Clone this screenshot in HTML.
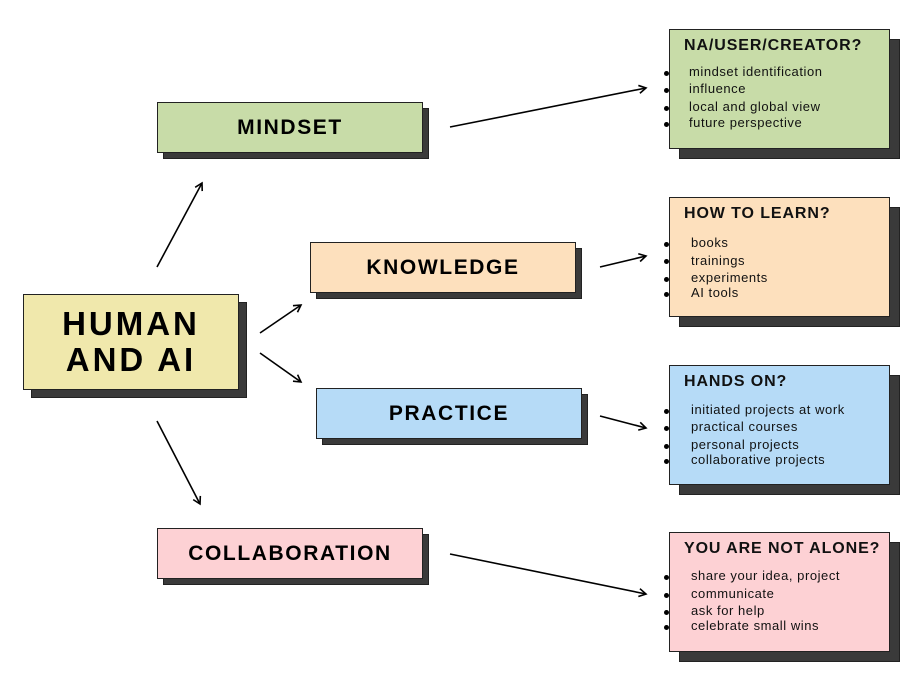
<!DOCTYPE html>
<html><head><meta charset="utf-8"><style>
html,body{margin:0;padding:0;background:#fff;}
body{width:924px;height:690px;position:relative;overflow:hidden;font-family:"Liberation Sans",sans-serif;}
.sh{position:absolute;background:#3a3a3a;border:1px solid #222;box-sizing:border-box;}
.bx{position:absolute;border:1.5px solid #222;box-sizing:border-box;display:flex;align-items:center;justify-content:center;font-weight:bold;color:#000;letter-spacing:1.6px;}
.rb{position:absolute;border:1.5px solid #222;box-sizing:border-box;color:#111;}
.rb .t{position:absolute;left:14px;top:7px;font-weight:bold;font-size:16px;letter-spacing:0.9px;white-space:nowrap;}
.rb .i{position:absolute;left:19px;font-size:13px;letter-spacing:0.55px;white-space:nowrap;}
.dot{position:absolute;width:5px;height:5px;border-radius:50%;background:#000;left:-6px;}
</style></head><body>
<svg width="924" height="690" style="position:absolute;left:0;top:0" xmlns="http://www.w3.org/2000/svg">
<defs><marker id="a" markerWidth="10" markerHeight="10" refX="8" refY="5" orient="auto" markerUnits="userSpaceOnUse"><path d="M1,1 L8,5 L1,9" fill="none" stroke="#000" stroke-width="1.6"/></marker></defs>
<g stroke="#000" stroke-width="1.6" fill="none" marker-end="url(#a)">
<line x1="157" y1="267" x2="202" y2="183"/>
<line x1="260" y1="333" x2="301" y2="305"/>
<line x1="260" y1="353" x2="301" y2="382"/>
<line x1="157" y1="421" x2="200" y2="504"/>
<line x1="450" y1="127" x2="646" y2="88"/>
<line x1="600" y1="267" x2="646" y2="256"/>
<line x1="600" y1="416" x2="646" y2="428"/>
<line x1="450" y1="554" x2="646" y2="594"/>
</g></svg>

<div class="sh" style="left:31px;top:302px;width:216px;height:96px"></div>
<div class="bx" style="left:23px;top:294px;width:216px;height:96px;background:#f0e8ac;font-size:33px;line-height:36px;text-align:center;letter-spacing:3px">HUMAN<br>AND AI</div>

<div class="sh" style="left:163px;top:108px;width:266px;height:51px"></div>
<div class="bx" style="left:157px;top:102px;width:266px;height:51px;background:#c8dca8;font-size:21px">MINDSET</div>

<div class="sh" style="left:316px;top:248px;width:266px;height:51px"></div>
<div class="bx" style="left:310px;top:242px;width:266px;height:51px;background:#fde0bd;font-size:21px">KNOWLEDGE</div>

<div class="sh" style="left:322px;top:394px;width:266px;height:51px"></div>
<div class="bx" style="left:316px;top:388px;width:266px;height:51px;background:#b6dbf7;font-size:21px">PRACTICE</div>

<div class="sh" style="left:163px;top:534px;width:266px;height:51px"></div>
<div class="bx" style="left:157px;top:528px;width:266px;height:51px;background:#fdd1d4;font-size:21px">COLLABORATION</div>

<div class="sh" style="left:679px;top:39px;width:221px;height:120px"></div>
<div class="rb" style="left:669px;top:29px;width:221px;height:120px;background:#c8dca8">
<div class="t">NA/USER/CREATOR?</div>
<div class="i" style="top:34px">mindset identification</div><div class="dot" style="top:41px"></div>
<div class="i" style="top:51px">influence</div><div class="dot" style="top:58px"></div>
<div class="i" style="top:69px">local and global view</div><div class="dot" style="top:76px"></div>
<div class="i" style="top:85px">future perspective</div><div class="dot" style="top:92px"></div>
</div>

<div class="sh" style="left:679px;top:207px;width:221px;height:120px"></div>
<div class="rb" style="left:669px;top:197px;width:221px;height:120px;background:#fde0bd">
<div class="t">HOW TO LEARN?</div>
<div class="i" style="left:21px;top:37px">books</div><div class="dot" style="top:44px"></div>
<div class="i" style="left:21px;top:55px">trainings</div><div class="dot" style="top:61px"></div>
<div class="i" style="left:21px;top:72px">experiments</div><div class="dot" style="top:79px"></div>
<div class="i" style="left:21px;top:87px">AI tools</div><div class="dot" style="top:94px"></div>
</div>

<div class="sh" style="left:679px;top:375px;width:221px;height:120px"></div>
<div class="rb" style="left:669px;top:365px;width:221px;height:120px;background:#b6dbf7">
<div class="t">HANDS ON?</div>
<div class="i" style="left:21px;top:36px">initiated projects at work</div><div class="dot" style="top:43px"></div>
<div class="i" style="left:21px;top:53px">practical courses</div><div class="dot" style="top:60px"></div>
<div class="i" style="left:21px;top:71px">personal projects</div><div class="dot" style="top:78px"></div>
<div class="i" style="left:21px;top:86px">collaborative projects</div><div class="dot" style="top:93px"></div>
</div>

<div class="sh" style="left:679px;top:542px;width:221px;height:120px"></div>
<div class="rb" style="left:669px;top:532px;width:221px;height:120px;background:#fdd1d4">
<div class="t">YOU ARE NOT ALONE?</div>
<div class="i" style="left:21px;top:35px">share your idea, project</div><div class="dot" style="top:42px"></div>
<div class="i" style="left:21px;top:53px">communicate</div><div class="dot" style="top:60px"></div>
<div class="i" style="left:21px;top:70px">ask for help</div><div class="dot" style="top:77px"></div>
<div class="i" style="left:21px;top:85px">celebrate small wins</div><div class="dot" style="top:92px"></div>
</div>
</body></html>
